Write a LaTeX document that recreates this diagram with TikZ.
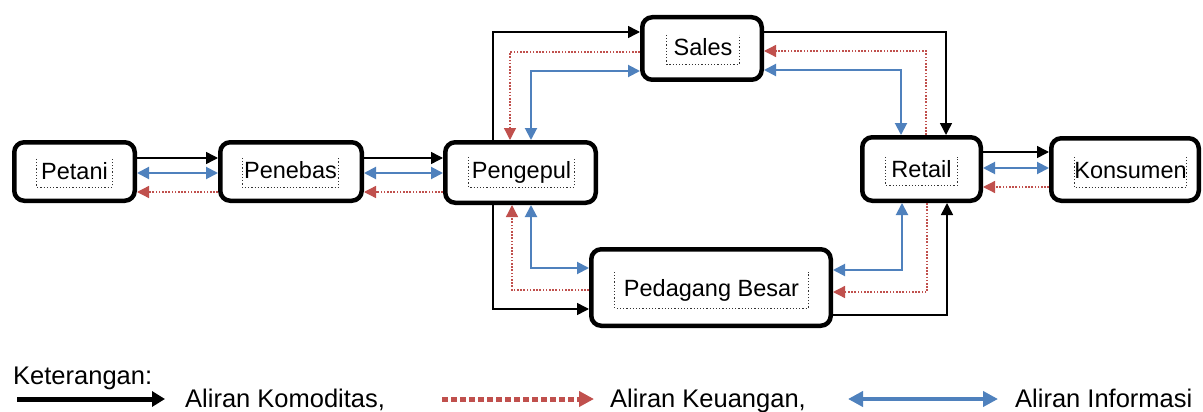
\documentclass[tikz,border=0pt]{standalone}
\usepackage{fontspec}
\setmainfont{Liberation Sans}
\usetikzlibrary{arrows.meta,calc}
\definecolor{ored}{HTML}{C0504D}
\definecolor{oblue}{HTML}{4F81BD}
\tikzset{
  box/.style={draw=black, line width=4.5pt, rounded corners=10pt, inner sep=0pt},
  lbl/.style={inner sep=0pt, font=\fontsize{23.5}{28}\selectfont, text height=17pt, text depth=5pt},
  frm/.style={draw=black!80, dotted, line width=1.2pt},
  tip/.style={},
  komo/.style={draw=black, line width=1.5pt, -{Triangle[length=12pt,width=12pt]}},
  uang/.style={draw=ored, line width=1.3pt, dash pattern=on 1.6pt off 1.6pt, -{Triangle[length=12pt,width=12pt]}},
  info/.style={draw=oblue, line width=2pt, {Triangle[length=12pt,width=12pt]}-{Triangle[length=12pt,width=12pt]}},
  lkomo/.style={draw=black, line width=5pt, -{Triangle[length=13pt,width=15pt]}},
  luang/.style={draw=ored, line width=5pt, dash pattern=on 6pt off 3pt, -{Triangle[length=15pt,width=15pt]}},
  linfo/.style={draw=oblue, line width=4.5pt, {Triangle[length=15pt,width=15pt]}-{Triangle[length=15pt,width=15pt]}},
  legtext/.style={anchor=base west, inner sep=0pt, font=\fontsize{25.5}{30}\selectfont},
}
\newcommand\tframe[1]{\draw[frm] (#1.north west) -- (#1.south west) -- (#1.south east) -- (#1.north east);}
\begin{document}
\begin{tikzpicture}[x=1pt,y=-1pt]
\fill[white] (0,0) rectangle (1203,412);
\useasboundingbox (0,0) rectangle (1203,412);

% boxes
\node[box, minimum width=120.5pt, minimum height=58.5pt] (petani) at (74.5,171.5) {};
\node[box, minimum width=141.5pt, minimum height=58.5pt] (penebas) at (291,171.5) {};
\node[box, minimum width=150.5pt, minimum height=60.5pt] (pengepul) at (520.5,172.5) {};
\node[box, minimum width=119.5pt, minimum height=62.5pt] (sales) at (702,48.5) {};
\node[box, minimum width=118.5pt, minimum height=63.5pt] (retail) at (921.5,169) {};
\node[box, minimum width=147.5pt, minimum height=62.5pt] (konsumen) at (1125,169.5) {};
\node[box, minimum width=239.5pt, minimum height=76.5pt] (pb) at (711,287.5) {};

% labels with dotted text frames
\node[lbl, minimum width=75pt, minimum height=28pt] (tpetani) at (74.5,173) {Petani};
\tframe{tpetani}
\node[lbl, minimum width=96pt, minimum height=29pt] (tpenebas) at (290.5,172.5) {Penebas};
\tframe{tpenebas}
\node[lbl, minimum width=105pt, minimum height=30pt] (tpengepul) at (521.5,172) {Pengepul};
\tframe{tpengepul}
\node[lbl, minimum width=72pt, minimum height=29pt] (tsales) at (703,49.5) {Sales};
\tframe{tsales}
\node[lbl, minimum width=71pt, minimum height=28pt] (tretail) at (921.5,171) {Retail};
\tframe{tretail}
\node[lbl, minimum width=111pt, minimum height=30pt] (tkonsumen) at (1130.5,172) {Konsumen};
\tframe{tkonsumen}
\node[lbl, minimum width=193pt, minimum height=36pt] (tpb) at (711.5,290) {Pedagang Besar};
\tframe{tpb}

% Petani - Penebas
\draw[komo] (petani.east |- 0,158) -- (penebas.west |- 0,158);
\draw[info] (petani.east |- 0,173) -- (penebas.west |- 0,173);
\draw[uang] (penebas.west |- 0,192) -- (petani.east |- 0,192);
% Penebas - Pengepul
\draw[komo] (penebas.east |- 0,158) -- (pengepul.west |- 0,158);
\draw[info] (penebas.east |- 0,173) -- (pengepul.west |- 0,173);
\draw[uang] (pengepul.west |- 0,192) -- (penebas.east |- 0,192);
% Pengepul - Sales
\draw[komo] (pengepul.north -| 493,0) |- (sales.west |- 0,32);
\draw[uang] (sales.west |- 0,52) -| (pengepul.north -| 510,0);
\draw[info] (pengepul.north -| 531,0) |- (sales.west |- 0,71);
% Sales - Retail
\draw[komo] (sales.east |- 0,32) -| (retail.north -| 946,0);
\draw[uang] (retail.north -| 926,0) |- (sales.east |- 0,51);
\draw[info] (sales.east |- 0,70) -| (retail.north -| 901,0);
% Pengepul - Pedagang Besar
\draw[komo] (pengepul.south -| 493,0) |- (pb.west |- 0,309);
\draw[uang] (pb.west |- 0,290) -| (pengepul.south -| 512,0);
\draw[info] (pengepul.south -| 531,0) |- (pb.west |- 0,268);
% Pedagang Besar - Retail
\draw[komo] (pb.east |- 0,315) -| (retail.south -| 947,0);
\draw[uang] (retail.south -| 927,0) |- (pb.east |- 0,292);
\draw[info] (pb.east |- 0,270) -| (retail.south -| 902,0);
% Retail - Konsumen
\draw[komo] (retail.east |- 0,152) -- (konsumen.west |- 0,152);
\draw[info] (retail.east |- 0,168) -- (konsumen.west |- 0,168);
\draw[uang] (konsumen.west |- 0,187) -- (retail.east |- 0,187);

% legend
\node[legtext] (ket) at (13,384) {Keterangan:};
\coordinate (k1) at (17,399); \coordinate (k2) at (165,399);
\draw[lkomo] (k1) -- (k2);
\node[legtext] (tk) at (185,407) {Aliran Komoditas,};
\coordinate (u1) at (442,399); \coordinate (u2) at (594,399);
\draw[luang] (u1) -- (u2);
\node[legtext] (tu) at (610,407) {Aliran Keuangan,};
\coordinate (i1) at (848,399); \coordinate (i2) at (998,399);
\draw[linfo] (i1) -- (i2);
\node[legtext] (ti) at (1015,407) {Aliran Informasi};
\end{tikzpicture}
\end{document}
